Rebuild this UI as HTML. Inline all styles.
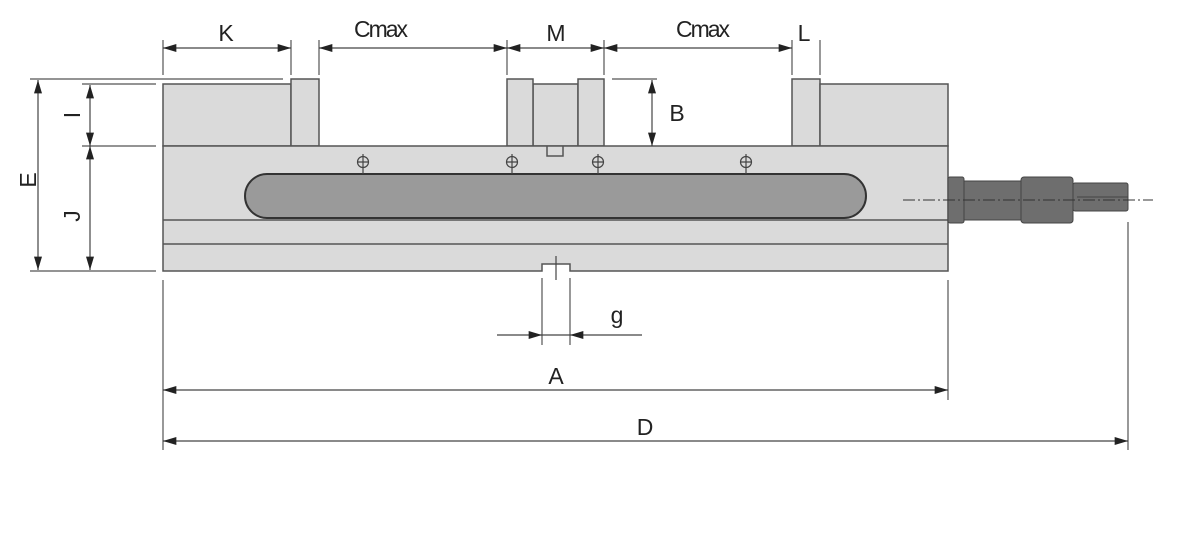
<!DOCTYPE html>
<html><head><meta charset="utf-8"><style>html,body{margin:0;padding:0;background:#fff}svg{display:block}</style></head>
<body>
<svg width="1200" height="540" viewBox="0 0 1200 540" xmlns="http://www.w3.org/2000/svg" font-family="Liberation Sans, sans-serif">
<defs>
<marker id="a" viewBox="0 0 10 6" refX="10" refY="3" markerWidth="18" markerHeight="8" markerUnits="userSpaceOnUse" orient="auto-start-reverse"><path d="M0,0L10,3L0,6z" fill="#222"/></marker>
</defs>
<g stroke="#555" stroke-width="1.5" fill="#dadada">
<rect x="163" y="84" width="128" height="62"/>
<rect x="291" y="79" width="28" height="67"/>
<rect x="533" y="84" width="45" height="62"/>
<rect x="507" y="79" width="26" height="67"/>
<rect x="578" y="79" width="26" height="67"/>
<rect x="792" y="79" width="28" height="67"/>
<rect x="820" y="84" width="128" height="62"/>
<path d="M163,146H948V271H570V264H542V271H163Z"/>
<path d="M547,146V156H563V146" fill="none"/>
<line x1="163" y1="220" x2="948" y2="220"/>
<line x1="163" y1="244" x2="948" y2="244"/>
</g>
<rect x="245" y="174" width="621" height="44" rx="22" fill="#9a9a9a" stroke="#333" stroke-width="2"/>
<g stroke="#444" stroke-width="1.2" fill="none">
<circle cx="363" cy="162" r="5.5"/><path d="M363,154V174M357,162H369"/>
<circle cx="512" cy="162" r="5.5"/><path d="M512,154V174M506,162H518"/>
<circle cx="598" cy="162" r="5.5"/><path d="M598,154V174M592,162H604"/>
<circle cx="746" cy="162" r="5.5"/><path d="M746,154V174M740,162H752"/>
<path d="M556,256V280"/>
</g>
<g fill="#6e6e6e" stroke="#444" stroke-width="1">
<rect x="948" y="177" width="16" height="46" rx="2"/>
<rect x="964" y="181" width="57" height="39"/>
<rect x="1021" y="177" width="52" height="46" rx="3"/>
<rect x="1073" y="183" width="55" height="28" rx="2"/>
<line x1="1077" y1="197" x2="1128" y2="197"/>
</g>
<line x1="903" y1="200" x2="1153" y2="200" stroke="#333" stroke-width="1" stroke-dasharray="12,3,2,3"/>
<g stroke="#555" stroke-width="1.2" fill="none">
<path d="M163,40V75M291,40V75M319,40V75M507,40V75M604,40V75M792,40V75M820,40V75"/>
<path d="M30,79H283M82,84H156M82,146H156M30,271H156"/>
<path d="M612,79H657"/>
<path d="M163,280V450M948,280V400M1128,222V450"/>
<path d="M542,278V345M570,278V345"/>
</g>
<g stroke="#444" stroke-width="1.2" fill="none" marker-start="url(#a)" marker-end="url(#a)">
<line x1="163" y1="48" x2="291" y2="48"/>
<line x1="319" y1="48" x2="507" y2="48"/>
<line x1="507" y1="48" x2="604" y2="48"/>
<line x1="604" y1="48" x2="792" y2="48"/>
<line x1="38" y1="80" x2="38" y2="270"/>
<line x1="90" y1="85" x2="90" y2="146"/>
<line x1="90" y1="146" x2="90" y2="270"/>
<line x1="652" y1="80" x2="652" y2="146"/>
<line x1="163" y1="390" x2="948" y2="390"/>
<line x1="163" y1="441" x2="1128" y2="441"/>
</g>
<g stroke="#444" stroke-width="1.2">
<line x1="497" y1="335" x2="542" y2="335" marker-end="url(#a)"/>
<line x1="642" y1="335" x2="570" y2="335" marker-end="url(#a)"/>
<line x1="542" y1="335" x2="570" y2="335"/>
</g>
<g fill="#222" font-size="23" text-anchor="middle">
<text x="226" y="41">K</text>
<text x="380" y="37" letter-spacing="-2">Cmax</text>
<text x="556" y="41">M</text>
<text x="702" y="37" letter-spacing="-2">Cmax</text>
<text x="804" y="41">L</text>
<text x="677" y="121">B</text>
<text x="617" y="323">g</text>
<text x="556" y="384">A</text>
<text x="645" y="435">D</text>
<text transform="translate(36,180) rotate(-90)">E</text>
<text transform="translate(80,115) rotate(-90)">I</text>
<text transform="translate(80,216) rotate(-90)">J</text>
</g>
</svg>
</body></html>
